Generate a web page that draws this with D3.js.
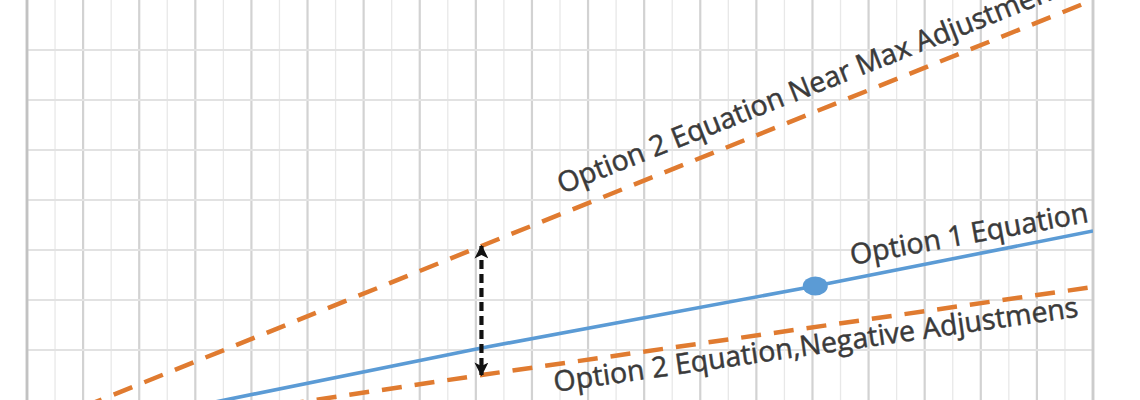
<!DOCTYPE html>
<html>
<head>
<meta charset="utf-8">
<script src="https://cdn.jsdelivr.net/npm/d3@7"></script>
<style>
  html, body { margin: 0; padding: 0; background: #ffffff; }
  svg { display: block; }
</style>
</head>
<body>
<svg id="chart" width="1140" height="400"></svg>
<script>
// ---- data ----
const xDomain = [0, 38];
const yDomain = [0, 8];

const nearMaxX = [2, 16.2, 38];
const nearMaxY = [-0.14, 3.08, 8.0];

const option1X = [6, 16.2, 28.1, 38];
const option1Y = [-0.12, 1.04, 2.28, 3.38];

const negativeX = [8, 16.2, 38];
const negativeY = [-0.19, 0.5, 2.26];

const markerX = [28.1];
const markerY = [2.28];

const arrowX = [16.2, 16.2];
const arrowY = [3.08, 0.5];

const labelTexts = [
  "Option 2 Equation Near Max Adjustments",
  "Option 1 Equation",
  "Option 2 Equation,Negative Adjustmens"
];
const labelX = [19.07, 29.41, 18.82];
const labelY = [4.12, 2.70, 0.16];
const labelAngle = [-21.6, -10.3, -8.2];

// ---- layout ----
const W = 1140, H = 400;
const mLeft = 27, mRight = 1093, mTop = 0, mBottom = 400;

const svg = d3.select("#chart");
const x = d3.scaleLinear().domain(xDomain).range([mLeft, mRight]);
const y = d3.scaleLinear().domain(yDomain).range([mBottom, mTop]);

svg.append("rect").attr("width", W).attr("height", H).attr("fill", "#fff");

const defs = svg.append("defs");
defs.append("clipPath").attr("id", "plot")
  .append("rect").attr("x", mLeft).attr("y", mTop)
  .attr("width", mRight - mLeft).attr("height", mBottom - mTop);

// vertical grid (minor + major)
const xTicks = x.ticks(38);
svg.append("g").selectAll("line").data(xTicks).join("line")
  .attr("x1", d => x(d)).attr("x2", d => x(d))
  .attr("y1", mTop).attr("y2", mBottom)
  .attr("stroke", d => (d % 2 === 0) ? "#d2d2d2" : "#e8e8e8")
  .attr("stroke-width", d => (d % 2 === 0) ? 2.2 : 1.3);

// horizontal grid
const yTicks = y.ticks(8).filter(d => d > 0 && d < 8);
svg.append("g").selectAll("line").data(yTicks).join("line")
  .attr("x1", mLeft).attr("x2", mRight)
  .attr("y1", d => y(d)).attr("y2", d => y(d))
  .attr("stroke", "#e2e2e2").attr("stroke-width", 1.8);

// axis borders
svg.append("line").attr("x1", mLeft).attr("x2", mLeft).attr("y1", mTop).attr("y2", mBottom)
  .attr("stroke", "#c2c2c2").attr("stroke-width", 2.8);
svg.append("line").attr("x1", mRight).attr("x2", mRight).attr("y1", mTop).attr("y2", mBottom)
  .attr("stroke", "#cccccc").attr("stroke-width", 2.8);

const g = svg.append("g").attr("clip-path", "url(#plot)");
const line = d3.line().x(d => x(d[0])).y(d => y(d[1]));

const zip = (a, b) => a.map((v, i) => [v, b[i]]);

g.append("path").datum(zip(nearMaxX, nearMaxY))
  .attr("d", line).attr("fill", "none")
  .attr("stroke", "#e07b30").attr("stroke-width", 4.5)
  .attr("stroke-dasharray", "20,13");

g.append("path").datum(zip(negativeX, negativeY))
  .attr("d", line).attr("fill", "none")
  .attr("stroke", "#e07b30").attr("stroke-width", 4.5)
  .attr("stroke-dasharray", "20,13");

g.append("path").datum(zip(option1X, option1Y))
  .attr("d", line).attr("fill", "none")
  .attr("stroke", "#5b9bd5").attr("stroke-width", 3.6);

g.selectAll("ellipse.mk").data(zip(markerX, markerY)).join("ellipse")
  .attr("class", "mk")
  .attr("cx", d => x(d[0])).attr("cy", d => y(d[1]))
  .attr("rx", 12.5).attr("ry", 9.5)
  .attr("fill", "#5b9bd5");

// double arrow
defs.append("marker").attr("id", "ah")
  .attr("viewBox", "0 0 10 10").attr("refX", 9).attr("refY", 5)
  .attr("markerWidth", 14).attr("markerHeight", 14)
  .attr("markerUnits", "userSpaceOnUse")
  .attr("orient", "auto-start-reverse")
  .append("path").attr("d", "M0,0 L10,5 L0,10 L2.5,5 Z").attr("fill", "#111");

g.append("line")
  .attr("x1", x(arrowX[0])).attr("y1", y(arrowY[0]))
  .attr("x2", x(arrowX[1])).attr("y2", y(arrowY[1]))
  .attr("stroke", "#111").attr("stroke-width", 4.2)
  .attr("stroke-dasharray", "9,5")
  .attr("marker-start", "url(#ah)").attr("marker-end", "url(#ah)");

// labels
svg.append("g").selectAll("text").data(labelTexts).join("text")
  .attr("transform", (d, i) => `translate(${x(labelX[i])},${y(labelY[i])}) rotate(${labelAngle[i]})`)
  .attr("font-family", "'Open Sans', sans-serif")
  .attr("font-size", 28.5)
  .attr("fill", "#3a3a3a")
  .attr("stroke", "#3a3a3a").attr("stroke-width", 0.5)
  .text(d => d);
</script>
</body>
</html>
